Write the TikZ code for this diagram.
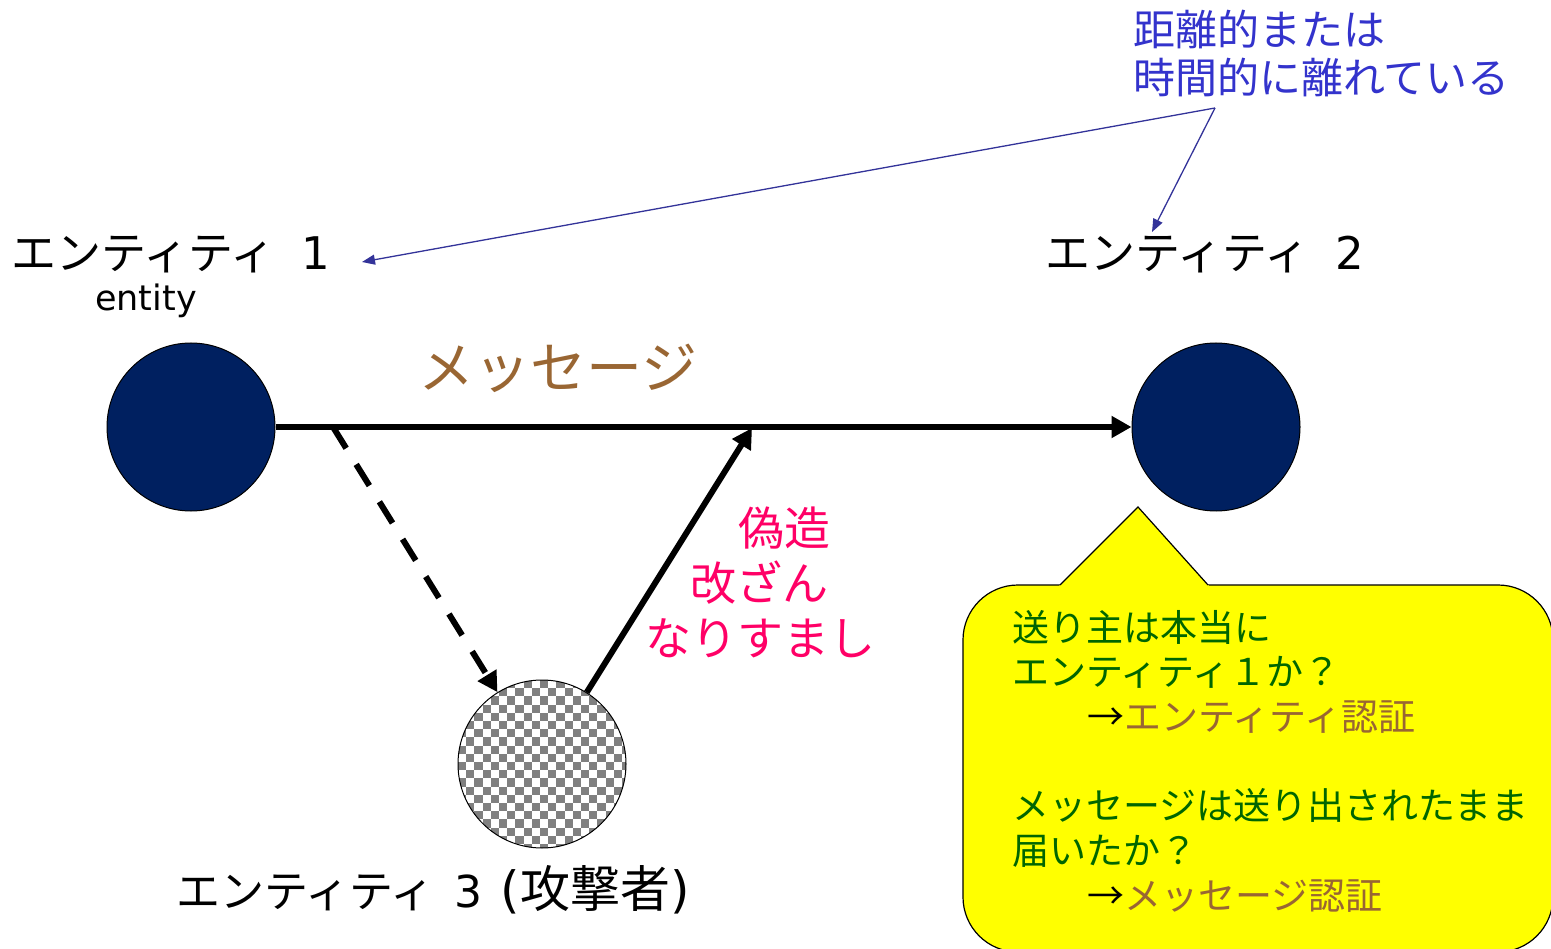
\documentclass[tikz,border=0pt]{standalone}
\usepackage{fontspec}
\setmainfont{Noto Sans CJK JP}
\newfontfamily\dv{DejaVu Sans}
\usetikzlibrary{arrows.meta}
\definecolor{navy}{HTML}{002060}
\definecolor{msgbrown}{HTML}{996633}
\definecolor{atkpink}{HTML}{FF0066}
\definecolor{notblue}{HTML}{3333CC}
\definecolor{lineblue}{HTML}{333399}
\definecolor{qgreen}{HTML}{006600}
\definecolor{checkgray}{HTML}{808080}
\definecolor{calloutyellow}{RGB}{255,255,0}
\begin{document}
\begin{tikzpicture}[x=1pt,y=-1pt,
  ent/.style={circle,draw=black,line width=1pt,minimum size=168pt,inner sep=0pt},
  msgarrow/.style={line width=6pt,-{Triangle[length=20pt,width=21pt]}},
  notearrow/.style={draw=lineblue,line width=1.3pt,-{Triangle[length=13pt,width=10pt]}},
  bigjp/.style={font=\fontsize{45}{50}\selectfont,inner sep=0pt},
  pinkjp/.style={font=\fontsize{46}{52}\selectfont,text=atkpink,inner sep=0pt,anchor=base west},
  bluejp/.style={font=\fontsize{42}{48}\selectfont,text=notblue,inner sep=0pt,anchor=base west},
  qtext/.style={font=\fontsize{37}{44}\selectfont,text=qgreen,inner sep=0pt,anchor=base west}]
\useasboundingbox (0,0) rectangle (1551,949);
\clip (0,0) rectangle (1551,949);

% entities
\node[ent,fill=navy] (e1) at (191,427) {};
\node[ent,fill=navy] (e2) at (1216,427) {};
\begin{scope}
  \clip (542,764) circle (84);
  \fill[white] (456,678) rectangle (628,850);
  \foreach \i in {0,...,21}{
    \foreach \j in {0,...,21}{
      \pgfmathtruncatemacro\chk{mod(\i+\j,2)}
      \ifnum\chk=0 \fill[checkgray] (458+\i*8.2,680+\j*8.2) rectangle ++(8.2,8.2);\fi
    }}
\end{scope}
\node[ent] (e3) at (542,764) {};

% labels
\node[bigjp,anchor=base west] (l1) at (11,270) {エンティティ\hspace{26pt}{\dv 1}};
\node[font=\dv\fontsize{35}{40}\selectfont,inner sep=0pt,anchor=base] (en) at (146,311) {entity};
\node[bigjp,anchor=base west] (l2) at (1045,270) {エンティティ\hspace{26pt}{\dv 2}};
\node[font=\fontsize{44}{50}\selectfont,inner sep=0pt,anchor=base west] (l3) at (176,907)
  {エンティティ\hspace{20pt}{\dv 3}\hspace{18pt}{\dv\fontsize{50}{50}\selectfont (}{\fontsize{50}{50}\selectfont 攻撃者}{\dv\fontsize{50}{50}\selectfont )}};
\node[font=\fontsize{56}{60}\selectfont,text=msgbrown,inner sep=0pt,anchor=base west] (msg) at (418,389) {メッセージ};

% attack labels
\node[pinkjp] (a1) at (738,545) {偽造};
\node[pinkjp] (a2) at (690,600) {改ざん};
\node[pinkjp] (a3) at (645,655) {なりすまし};

% note
\node[bluejp] (n1) at (1133,46) {距離的または};
\node[bluejp] (n2) at (1133,94) {時間的に離れている};
\coordinate (apex) at (1215,108);
\coordinate (t1) at (362,262);
\coordinate (t2) at (1152,232);
\draw[notearrow] (apex) -- (t1);
\draw[notearrow] (apex) -- (t2);

% message arrows
\coordinate (tap) at (333,427);
\coordinate (inj) at (752,428);
\draw[msgarrow] (e1) -- (e2);
\draw[msgarrow,dash pattern=on 25pt off 19pt] (tap) -- (e3);
\draw[msgarrow] (e3) -- (inj);

% callout
\draw[fill=calloutyellow,line width=1.2pt,rounded corners=55pt] (963,585) rectangle (1553,952);
\fill[calloutyellow] (1058,587) -- (1138,507) -- (1210,587) -- cycle;
\draw[line width=1.2pt,line join=miter] (1060,585) -- (1138,507) -- (1208,585);
\node[qtext] (q1) at (1012,641) {送り主は本当に};
\node[qtext] (q2) at (1012,685) {エンティティ１か？};
\node[qtext] (q3) at (1087,730) {\textcolor{black}{→}\textcolor{msgbrown}{エンティティ認証}};
\node[qtext] (q4) at (1012,819) {メッセージは送り出されたまま};
\node[qtext] (q5) at (1012,864) {届いたか？};
\node[qtext] (q6) at (1087,909) {\textcolor{black}{→}\textcolor{msgbrown}{メッセージ認証}};
\end{tikzpicture}
\end{document}
